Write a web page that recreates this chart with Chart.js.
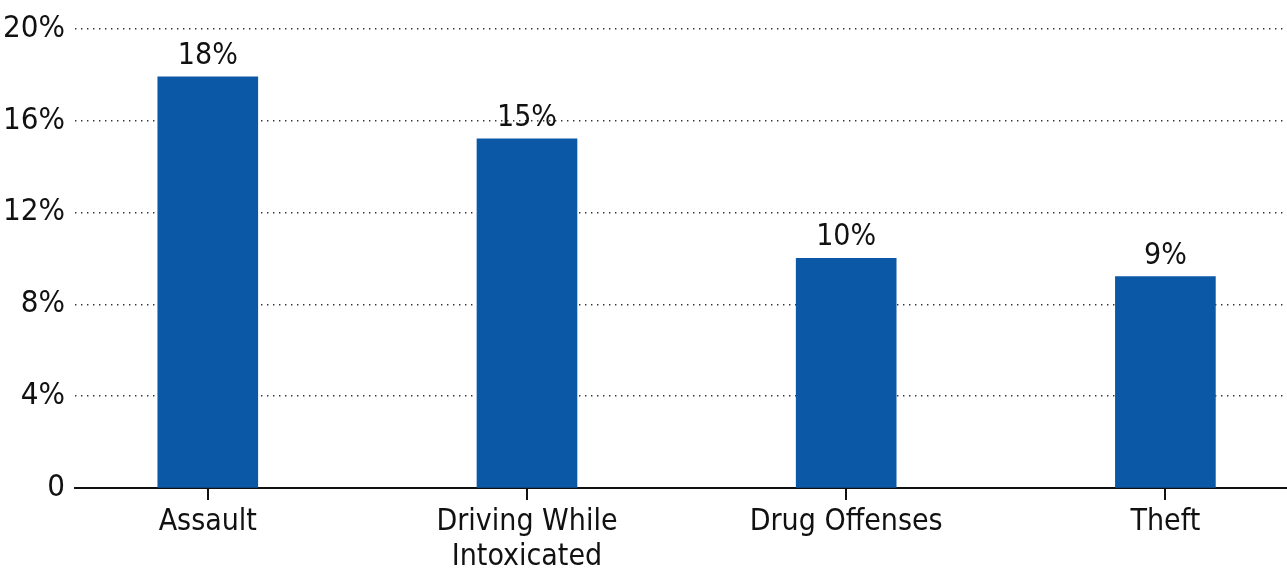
<!DOCTYPE html>
<html>
<head>
<meta charset="utf-8">
<script src="https://cdn.jsdelivr.net/npm/chart.js@4.4.0/dist/chart.umd.min.js"></script>
<style>
  html, body { margin:0; padding:0; background:#fff; overflow:hidden; }
  #wrap { width:1287px; height:571px; position:relative; }
</style>
</head>
<body>
<div id="wrap"><canvas id="chart"></canvas></div>
<script>
// data
const categories = [['Assault'], ['Driving While', 'Intoxicated'], ['Drug Offenses'], ['Theft']];
const shares = [17.9, 15.2, 10.0, 9.2];
const shareLabels = ['18%', '15%', '10%', '9%'];
const yTicks = [0, 4, 8, 12, 16, 20];

(function(){
  const FONT = "'Liberation Sans Narrow', 'DejaVu Sans Condensed', 'Roboto', sans-serif";
  const BLUE = '#0b58a7';

  // value labels above each bar
  const barLabels = {
    id: 'barLabels',
    afterDatasetsDraw(chart){
      const ctx = chart.ctx;
      const meta = chart.getDatasetMeta(0);
      ctx.save();
      ctx.font = '30px ' + FONT;
      ctx.fillStyle = '#111';
      ctx.textAlign = 'center';
      ctx.textBaseline = 'alphabetic';
      meta.data.forEach((bar, i) => {
        ctx.fillText(shareLabels[i], bar.x, bar.y - 13);
      });
      ctx.restore();
    }
  };

  const points = shares.map((v, i) => ({ x: i, y: v }));

  new Chart(document.getElementById('chart').getContext('2d'), {
    type: 'bar',
    data: { datasets: [{ data: points, backgroundColor: BLUE, barThickness: 100 }] },
    options: {
      responsive: true,
      maintainAspectRatio: false,
      animation: false,
      layout: { padding: { top: 28, right: 0, left: 0, bottom: 0 } },
      plugins: { legend: { display: false }, tooltip: { enabled: false } },
      scales: {
        x: {
          type: 'linear',
          offset: false,
          min: -0.416,
          max: 3.381,
          afterBuildTicks: axis => { axis.ticks = categories.map((c, i) => ({ value: i })); },
          afterFit: axis => { axis.height = 83; },
          grid: { display: true, offset: false, drawOnChartArea: false, drawTicks: true, tickLength: 12, color: '#111', lineWidth: 2 },
          border: { display: true, color: '#111', width: 2 },
          ticks: {
            callback: v => categories[v],
            font: { family: FONT, size: 30, lineHeight: 1.17 },
            color: '#111',
            padding: 5,
            maxRotation: 0,
            autoSkip: false
          }
        },
        y: {
          min: 0,
          max: 20,
          afterBuildTicks: axis => { axis.ticks = yTicks.map(v => ({ value: v })); },
          afterFit: axis => { axis.width = 75; },
          grid: { drawTicks: false, color: '#333', lineWidth: 1.4 },
          border: { display: false, dash: [1.4, 4.6] },
          ticks: {
            callback: v => v === 0 ? '0' : v + '%',
            font: { family: FONT, size: 31 },
            color: '#111',
            padding: 10
          }
        }
      }
    },
    plugins: [barLabels]
  });
})();
</script>
</body>
</html>
